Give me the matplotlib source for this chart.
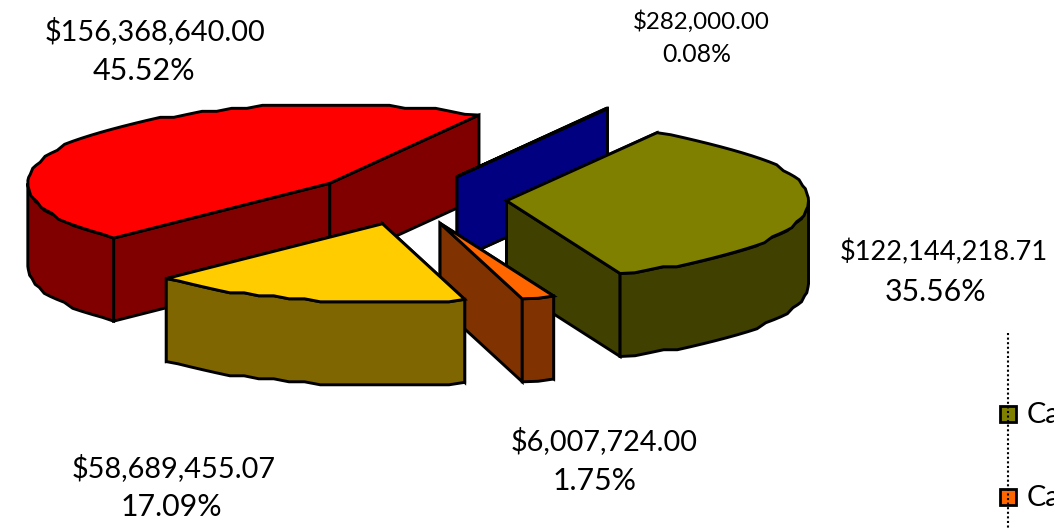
import matplotlib
matplotlib.use("Agg")
import matplotlib.pyplot as plt
from matplotlib.patches import Polygon
import numpy as np

plt.rcParams['font.family'] = ['Lato', 'DejaVu Sans']

# slices in pie order, going counter clockwise from start_angle
names = ["red", "yellow", "orange", "olive", "blue"]
amounts = [156368640.00, 58689455.07, 6007724.00, 122144218.71, 282000.00]
top_colors = ["#ff0000", "#ffcc00", "#ff6600", "#808000", "#000080"]
side_colors = ["#800000", "#806600", "#803300", "#404000", "#000080"]
draw_order = ["red", "blue", "olive", "orange", "yellow"]
legend_labels = ["Ca", "Ca"]
legend_colors = ["#808000", "#ff6600"]

# label placement in pixels: amount x, y, size, percent x, y, size
label_pos = {"red": (155, 31, 20.8, 144, 71, 22.0), "yellow": (174, 468, 20.8, 171, 507, 21.8),
             "orange": (604, 441, 20.8, 595, 481, 21.8), "olive": (944, 252, 19.6, 935, 292, 21.8),
             "blue": (701, 22, 17.4, 697, 54, 17.8)}

start_angle = 60.4
cx, cy = 408.0, 199.0
a, b = 302.0, 78.5
explode = 0.327
depth = 83


def arc(t0, t1):
    # coarse steps, the original has a wobbly outline
    n = max(int(abs(t1 - t0) / 3.0), 1)
    ts = np.linspace(t0, t1, n + 1)
    x = a * np.cos(np.radians(ts))
    y = -b * np.sin(np.radians(ts))
    y[1:-1] = np.round(y[1:-1] / 3.0) * 3.0
    return np.column_stack([x, y])


fig = plt.figure(figsize=(10.54, 5.30), dpi=100)
ax = fig.add_axes([0, 0, 1, 1])
ax.set_xlim(0, 1054)
ax.set_ylim(530, 0)
ax.axis("off")

total = sum(amounts)
angles = {}
cur = start_angle
for i, name in enumerate(names):
    sweep = amounts[i] / total * 360.0
    angles[name] = (cur, cur + sweep, i)
    cur += sweep

down = np.array([0, depth])
for name in draw_order:
    t0, t1, i = angles[name]
    mid = np.radians((t0 + t1) / 2.0)
    apex = np.array([cx + explode * a * np.cos(mid), cy - explode * b * np.sin(mid)])
    rim = arc(t0, t1) + apex
    kw = dict(edgecolor="black", linewidth=2.1, joinstyle="miter", zorder=2)

    # cut faces first, the ones at the back get covered by what follows
    for p in (rim[-1], rim[0]):
        ax.add_patch(Polygon([apex, p, p + down, apex + down], facecolor=side_colors[i], **kw))

    # outer wall, only the front half of the ellipse shows
    for lo, hi in [(180, 360), (540, 720)]:
        s, e = max(t0, lo), min(t1, hi)
        if e > s:
            wall = arc(s, e) + apex
            ax.add_patch(Polygon(np.vstack([wall, wall[::-1] + down]), facecolor=side_colors[i], **kw))

    ax.add_patch(Polygon(np.vstack([[apex], rim]), facecolor=top_colors[i], **kw))

    x1, y1, fs1, x2, y2, fs2 = label_pos[name]
    ax.text(x1, y1, "${:,.2f}".format(amounts[i]), ha="center", va="center", fontsize=fs1, color="black", zorder=5)
    ax.text(x2, y2, "{:.2f}%".format(amounts[i] / total * 100.0), ha="center", va="center", fontsize=fs2,
            color="black", zorder=5)

# legend, cut off by the picture edge
ax.plot([1008, 1008], [333, 530], color="black", linewidth=1.5, linestyle=(0, (1, 1.2)), zorder=4)
for y, col, lab in zip([414, 497], legend_colors, legend_labels):
    ax.plot([1008], [y], marker="s", markersize=11, markerfacecolor=col, markeredgecolor="black",
            markeredgewidth=2, linestyle="none", zorder=3)
    ax.text(1027, y + 1, lab, ha="left", va="center", fontsize=20.8, color="black", zorder=5)

fig.savefig("out.png", dpi=100)
